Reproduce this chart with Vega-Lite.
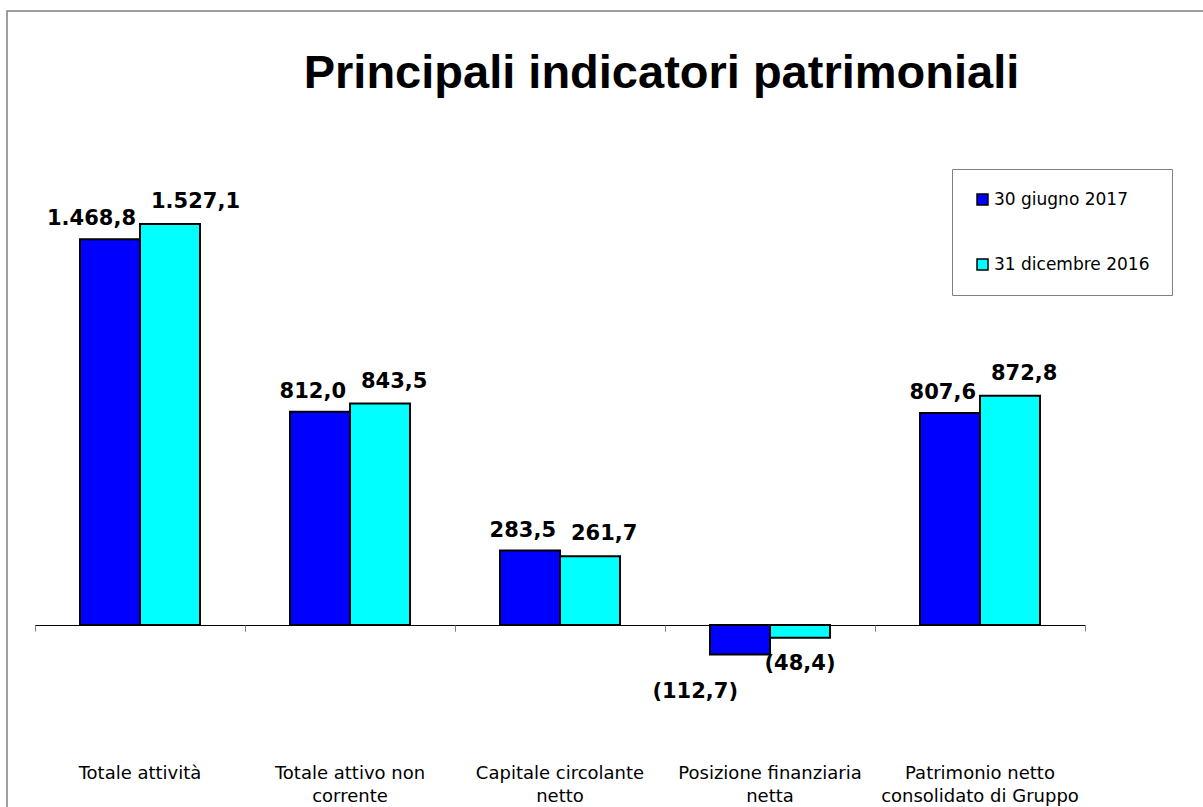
{
  "$schema": "https://vega.github.io/schema/vega-lite/v6.json",
  "width": 1197,
  "height": 797,
  "autosize": {"type": "none"},
  "padding": {"left": 7, "top": 11, "right": -1, "bottom": -1},
  "background": "white",
  "title": {
    "text": "Principali indicatori patrimoniali",
    "font": "Liberation Sans",
    "fontSize": 47,
    "fontWeight": "bold",
    "color": "black",
    "anchor": "middle",
    "frame": "group",
    "baseline": "alphabetic",
    "offset": 0,
    "dx": 56,
    "dy": 124
  },
  "data": {
    "values": [
      {"categoria": "Totale attività", "serie": "30 giugno 2017", "valore": 1468.8},
      {"categoria": "Totale attività", "serie": "31 dicembre 2016", "valore": 1527.1},
      {"categoria": "Totale attivo non corrente", "serie": "30 giugno 2017", "valore": 812.0},
      {"categoria": "Totale attivo non corrente", "serie": "31 dicembre 2016", "valore": 843.5},
      {"categoria": "Capitale circolante netto", "serie": "30 giugno 2017", "valore": 283.5},
      {"categoria": "Capitale circolante netto", "serie": "31 dicembre 2016", "valore": 261.7},
      {"categoria": "Posizione finanziaria netta", "serie": "30 giugno 2017", "valore": -112.7},
      {"categoria": "Posizione finanziaria netta", "serie": "31 dicembre 2016", "valore": -48.4},
      {"categoria": "Patrimonio netto consolidato di Gruppo", "serie": "30 giugno 2017", "valore": 807.6},
      {"categoria": "Patrimonio netto consolidato di Gruppo", "serie": "31 dicembre 2016", "valore": 872.8}
    ]
  },
  "layer": [
    {
      "mark": {"type": "bar", "stroke": "black", "strokeWidth": 2},
      "encoding": {
        "x": {
          "field": "categoria", "type": "nominal",
          "sort": ["Totale attività", "Totale attivo non corrente", "Capitale circolante netto", "Posizione finanziaria netta", "Patrimonio netto consolidato di Gruppo"],
          "scale": {"range": [28, 1078], "paddingInner": 0, "paddingOuter": 0},
          "axis": {"orient": "bottom", "offset": -183, "labels": false, "title": null, "grid": false, "domain": true, "domainColor": "black", "domainWidth": 1, "ticks": true, "tickColor": "#808080", "tickSize": 6, "tickWidth": 1, "bandPosition": 0}
        },
        "xOffset": {
          "field": "serie", "type": "nominal",
          "sort": ["30 giugno 2017", "31 dicembre 2016"],
          "scale": {"paddingInner": 0, "paddingOuter": 0.75}
        },
        "y": {
          "field": "valore", "type": "quantitative",
          "scale": {"domain": [-696.9, 2338.3], "nice": false, "zero": false},
          "axis": null
        },
        "color": {
          "field": "serie", "type": "nominal",
          "sort": ["30 giugno 2017", "31 dicembre 2016"],
          "scale": {"domain": ["30 giugno 2017", "31 dicembre 2016"], "range": ["#0000ff", "#00ffff"]},
          "legend": {
            "orient": "none", "legendX": 945, "legendY": 158, "title": null,
            "strokeColor": "#808080", "fillColor": "white", "padding": 22, "rowPadding": 47,
            "labelFont": "DejaVu Sans", "labelFontSize": 17, "labelColor": "black", "labelOffset": 3, "labelLimit": 300,
            "symbolType": "square", "symbolSize": 120, "symbolStrokeColor": "black", "symbolStrokeWidth": 1.5,
            "direction": "vertical"
          }
        }
      }
    },
    {
      "transform": [{"filter": "datum.serie == '30 giugno 2017' && datum.valore > 0"}],
      "mark": {"type": "text", "font": "DejaVu Sans", "fontSize": 21, "fontWeight": "bold", "color": "black", "align": "right", "baseline": "alphabetic", "dx": 26, "dy": -14},
      "encoding": {
        "x": {
          "field": "categoria", "type": "nominal",
          "sort": ["Totale attività", "Totale attivo non corrente", "Capitale circolante netto", "Posizione finanziaria netta", "Patrimonio netto consolidato di Gruppo"],
          "axis": {
            "orient": "bottom", "offset": -44, "title": null, "grid": false, "domain": false, "ticks": false, "tickSize": 0,
            "labelPadding": 0, "labelBaseline": "top", "labelAngle": 0, "labelFont": "DejaVu Sans", "labelFontSize": 18,
            "labelColor": "black", "labelLineHeight": 23, "labelLimit": 400, "labelOverlap": false, "labelFlush": false,
            "labelExpr": "datum.value == 'Totale attivo non corrente' ? ['Totale attivo non', 'corrente'] : datum.value == 'Capitale circolante netto' ? ['Capitale circolante', 'netto'] : datum.value == 'Posizione finanziaria netta' ? ['Posizione finanziaria', 'netta'] : datum.value == 'Patrimonio netto consolidato di Gruppo' ? ['Patrimonio netto', 'consolidato di Gruppo'] : datum.value"
          }
        },
        "xOffset": {"field": "serie", "type": "nominal", "sort": ["30 giugno 2017", "31 dicembre 2016"]},
        "y": {"field": "valore", "type": "quantitative", "axis": null},
        "text": {"field": "valore", "type": "quantitative", "format": "(,.1f"}
      }
    },
    {
      "transform": [{"filter": "datum.serie == '31 dicembre 2016' && datum.valore > 0"}],
      "mark": {"type": "text", "font": "DejaVu Sans", "fontSize": 21, "fontWeight": "bold", "color": "black", "align": "left", "baseline": "alphabetic", "dx": -19, "dy": -16},
      "encoding": {
        "x": {
          "field": "categoria", "type": "nominal",
          "sort": ["Totale attività", "Totale attivo non corrente", "Capitale circolante netto", "Posizione finanziaria netta", "Patrimonio netto consolidato di Gruppo"],
          "axis": {"orient": "bottom", "offset": -183, "labels": false, "title": null, "grid": false, "domain": false, "ticks": true, "tickColor": "#808080", "tickSize": 6, "tickWidth": 1, "bandPosition": 1}
        },
        "xOffset": {"field": "serie", "type": "nominal", "sort": ["30 giugno 2017", "31 dicembre 2016"]},
        "y": {"field": "valore", "type": "quantitative", "axis": null},
        "text": {"field": "valore", "type": "quantitative", "format": "(,.1f"}
      }
    },
    {
      "transform": [{"filter": "datum.serie == '30 giugno 2017' && datum.valore < 0"}],
      "mark": {"type": "text", "font": "DejaVu Sans", "fontSize": 21, "fontWeight": "bold", "color": "black", "align": "right", "baseline": "alphabetic", "dx": -2, "dy": 43},
      "encoding": {
        "x": {
          "field": "categoria", "type": "nominal",
          "sort": ["Totale attività", "Totale attivo non corrente", "Capitale circolante netto", "Posizione finanziaria netta", "Patrimonio netto consolidato di Gruppo"],
          "axis": null
        },
        "xOffset": {"field": "serie", "type": "nominal", "sort": ["30 giugno 2017", "31 dicembre 2016"]},
        "y": {"field": "valore", "type": "quantitative", "axis": null},
        "text": {"field": "valore", "type": "quantitative", "format": "(,.1f"}
      }
    },
    {
      "transform": [{"filter": "datum.serie == '31 dicembre 2016' && datum.valore < 0"}],
      "mark": {"type": "text", "font": "DejaVu Sans", "fontSize": 21, "fontWeight": "bold", "color": "black", "align": "center", "baseline": "alphabetic", "dx": 0, "dy": 32},
      "encoding": {
        "x": {
          "field": "categoria", "type": "nominal",
          "sort": ["Totale attività", "Totale attivo non corrente", "Capitale circolante netto", "Posizione finanziaria netta", "Patrimonio netto consolidato di Gruppo"],
          "axis": null
        },
        "xOffset": {"field": "serie", "type": "nominal", "sort": ["30 giugno 2017", "31 dicembre 2016"]},
        "y": {"field": "valore", "type": "quantitative", "axis": null},
        "text": {"field": "valore", "type": "quantitative", "format": "(,.1f"}
      }
    }
  ],
  "resolve": {"axis": {"x": "independent"}},
  "config": {
    "view": {"stroke": "#808080", "strokeWidth": 1.5},
    "locale": {"number": {"decimal": ",", "thousands": ".", "grouping": [3], "currency": ["€", ""]}}
  }
}
